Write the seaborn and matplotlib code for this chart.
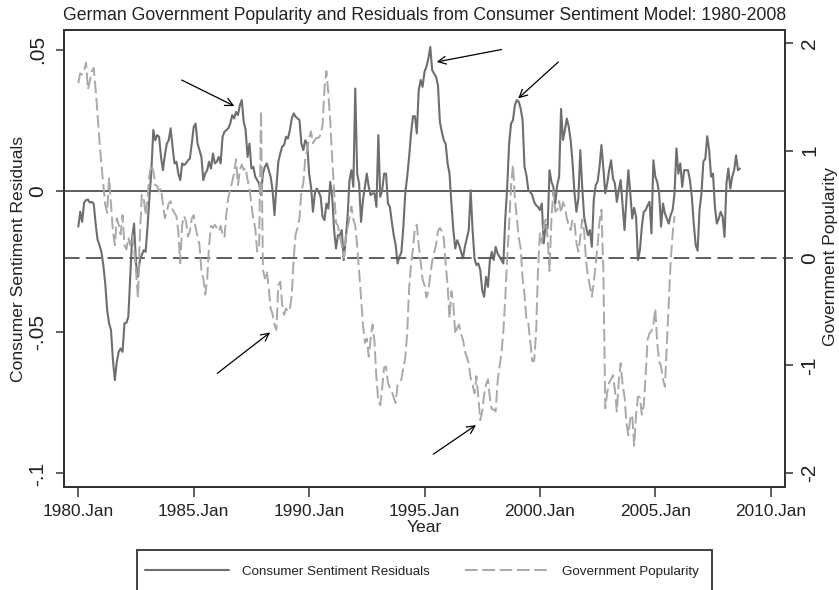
import numpy as np
import pandas as pd
import matplotlib
matplotlib.use("Agg")
import matplotlib.pyplot as plt
from matplotlib.lines import Line2D
from matplotlib.patches import Rectangle
import seaborn as sns

# Monthly series, first observation 1980.Jan
residuals = [
    -0.0127, -0.0074, -0.0110, -0.0042, -0.0033, -0.0031, -0.0042, -0.0039, -0.0045, -0.0116,
    -0.0172, -0.0192, -0.0216, -0.0263, -0.0328, -0.0422, -0.0469, -0.0493, -0.0599, -0.0670,
    -0.0605, -0.0570, -0.0558, -0.0570, -0.0469, -0.0467, -0.0446, -0.0304, -0.0163, -0.0116,
    -0.0257, -0.0304, -0.0245, -0.0228, -0.0210, -0.0216, -0.0127, -0.0021, 0.0073, 0.0215,
    0.0179, 0.0197, 0.0191, 0.0120, 0.0073, 0.0126, 0.0167, 0.0179, 0.0221, 0.0156,
    0.0097, 0.0103, 0.0061, 0.0038, 0.0097, 0.0091, 0.0097, 0.0108, 0.0114, 0.0167,
    0.0226, 0.0238, 0.0167, 0.0144, 0.0120, 0.0038, 0.0061, 0.0073, 0.0103, 0.0079,
    0.0132, 0.0097, 0.0103, 0.0120, 0.0097, 0.0191, 0.0209, 0.0215, 0.0221, 0.0238,
    0.0268, 0.0256, 0.0279, 0.0268, 0.0303, 0.0321, 0.0244, 0.0215, 0.0120, 0.0167,
    0.0079, 0.0085, 0.0050, 0.0038, 0.0026, -0.0015, 0.0061, 0.0085, 0.0097, 0.0073,
    0.0050, 0.0002, -0.0086, 0.0014, 0.0103, 0.0132, 0.0156, 0.0162, 0.0191, 0.0185,
    0.0215, 0.0256, 0.0274, 0.0262, 0.0256, 0.0250, 0.0167, 0.0144, 0.0179, 0.0167,
    0.0061, 0.0014, -0.0074, -0.0009, 0.0008, -0.0004, -0.0021, -0.0092, -0.0104, -0.0045,
    -0.0063, 0.0032, -0.0021, -0.0139, -0.0204, -0.0157, -0.0157, -0.0139, -0.0245, -0.0175,
    -0.0092, 0.0038, 0.0073, 0.0014, 0.0362, 0.0061, 0.0026, -0.0110, -0.0033, 0.0014,
    0.0061, 0.0014, -0.0015, -0.0009, -0.0009, -0.0057, 0.0197, -0.0021, 0.0002, 0.0061,
    0.0061, -0.0045, -0.0057, -0.0110, -0.0157, -0.0192, -0.0257, -0.0233, -0.0216, -0.0127,
    -0.0009, 0.0050, 0.0120, 0.0203, 0.0264, 0.0264, 0.0203, 0.0356, 0.0392, 0.0368,
    0.0421, 0.0439, 0.0468, 0.0509, 0.0427, 0.0415, 0.0403, 0.0374, 0.0244, 0.0209,
    0.0179, 0.0167, 0.0097, 0.0061, -0.0045, -0.0139, -0.0204, -0.0175, -0.0192, -0.0216,
    -0.0239, -0.0198, -0.0169, -0.0139, 0.0002, -0.0139, -0.0239, -0.0263, -0.0257, -0.0281,
    -0.0351, -0.0375, -0.0304, -0.0340, -0.0245, -0.0216, -0.0245, -0.0198, -0.0222, -0.0233,
    -0.0245, -0.0257, -0.0098, 0.0014, 0.0167, 0.0238, 0.0250, 0.0303, 0.0321, 0.0315,
    0.0291, 0.0250, 0.0085, 0.0055, 0.0002, -0.0004, -0.0015, -0.0039, -0.0051, -0.0057,
    -0.0068, -0.0045, -0.0186, -0.0121, -0.0133, 0.0073, 0.0032, 0.0014, -0.0045, 0.0020,
    0.0050, 0.0290, 0.0180, 0.0215, 0.0256, 0.0226, 0.0179, 0.0097, -0.0009, -0.0074,
    -0.0027, 0.0144, 0.0014, -0.0092, -0.0127, -0.0157, -0.0139, -0.0198, -0.0033, 0.0020,
    0.0032, 0.0085, 0.0162, 0.0079, -0.0009, 0.0026, 0.0073, 0.0108, 0.0044, 0.0026,
    -0.0039, 0.0002, 0.0038, -0.0051, -0.0139, -0.0027, 0.0073, -0.0009, -0.0098, -0.0060,
    -0.0092, -0.0245, -0.0210, -0.0127, -0.0074, -0.0068, -0.0051, -0.0039, -0.0151, 0.0108,
    0.0050, 0.0032, -0.0009, -0.0127, -0.0045, -0.0080, -0.0098, -0.0116, -0.0086, -0.0068,
    -0.0009, 0.0150, 0.0061, 0.0097, 0.0014, 0.0073, 0.0073, 0.0073, 0.0038, -0.0021,
    -0.0116, -0.0192, -0.0212, -0.0068, -0.0009, 0.0103, 0.0114, 0.0193, 0.0144, 0.0050,
    0.0061, -0.0057, -0.0116, -0.0098, -0.0074, -0.0092, -0.0163, 0.0026, 0.0079, 0.0008,
    0.0050, 0.0073, 0.0126, 0.0073, 0.0079,
]

popularity = [
    1.63, 1.72, 1.71, 1.74, 1.82, 1.57, 1.65, 1.74, 1.77, 1.57,
    1.34, 1.09, 0.87, 0.68, 0.50, 0.42, 0.75, 0.50, 0.25, 0.12,
    0.37, 0.31, 0.22, 0.40, 0.12, 0.08, 0.19, 0.12, 0.22, 0.09,
    -0.12, -0.37, 0.19, 0.59, 0.56, 0.40, 0.56, 0.78, 0.87, 0.81,
    0.68, 0.67, 0.62, 0.65, 0.50, 0.37, 0.43, 0.51, 0.53, 0.45,
    0.42, 0.39, 0.25, -0.05, 0.31, 0.39, 0.34, 0.20, 0.25, 0.37,
    0.40, 0.28, 0.20, 0.12, -0.11, -0.19, -0.34, -0.20, 0.12, 0.30,
    0.28, 0.31, 0.28, 0.25, 0.30, 0.22, 0.19, 0.42, 0.56, 0.64,
    0.71, 0.79, 0.92, 0.68, 0.82, 0.87, 0.82, 0.84, 0.73, 0.65,
    0.50, 0.36, 0.28, 0.06, 0.09, 1.37, -0.11, -0.19, -0.12, -0.28,
    -0.47, -0.52, -0.62, -0.67, -0.25, -0.22, -0.43, -0.53, -0.47, -0.50,
    -0.47, -0.35, 0.00, 0.22, 0.28, 0.37, 0.62, 0.70, 0.92, 1.01,
    1.12, 1.18, 1.07, 1.10, 1.12, 1.12, 1.15, 1.24, 1.58, 1.74,
    1.54, 1.27, 0.93, 0.62, 0.33, 0.30, 0.20, 0.12, 0.00, 0.19,
    0.28, 0.37, 0.48, 0.36, 0.30, 0.11, -0.12, -0.37, -0.62, -0.79,
    -0.75, -0.92, -0.75, -0.62, -0.78, -1.12, -1.34, -1.37, -1.21, -1.02,
    -1.01, -1.16, -1.21, -1.24, -1.30, -1.35, -1.18, -1.16, -1.13, -1.02,
    -0.93, -0.70, -0.28, -0.06, 0.09, 0.28, 0.31, 0.12, -0.03, -0.20,
    -0.25, -0.37, -0.31, -0.16, -0.03, 0.05, 0.12, 0.25, 0.28, 0.25,
    0.19, -0.05, -0.25, -0.56, -0.31, -0.43, -0.71, -0.65, -0.62, -0.71,
    -0.76, -0.87, -0.92, -0.98, -1.12, -1.18, -1.26, -1.10, -1.30, -1.51,
    -1.43, -1.27, -1.18, -1.13, -1.30, -1.41, -1.41, -1.43, -1.15, -1.01,
    -0.89, -0.68, -0.37, 0.00, 0.31, 0.67, 0.87, 0.56, 0.37, 0.19,
    0.09, -0.19, -0.34, -0.57, -0.61, -0.78, -0.96, -0.96, -0.70, -0.12,
    0.23, 0.14, 0.30, 0.36, 0.19, -0.12, 0.37, 0.62, 0.43, 0.45,
    0.53, 0.42, 0.52, 0.48, 0.37, 0.30, 0.26, 0.36, 0.33, 0.14,
    0.06, 0.19, 0.36, 0.25, -0.03, -0.17, -0.26, -0.36, -0.23, -0.06,
    0.12, 0.34, 0.45, -0.12, -1.40, -1.25, -1.16, -1.13, -1.09, -1.23,
    -1.43, -1.15, -0.98, -1.18, -1.29, -1.54, -1.65, -1.49, -1.46, -1.75,
    -1.46, -1.29, -1.30, -1.46, -1.37, -1.09, -0.76, -0.70, -0.68, -0.62,
    -0.47, -0.79, -0.96, -1.01, -1.13, -1.20, -0.81, -0.40, -0.03, 0.22,
    0.39,
]

start_year = 1980
x_ticks = [1980, 1985, 1990, 1995, 2000, 2005, 2010]
x_tick_labels = ["1980.Jan", "1985.Jan", "1990.Jan", "1995.Jan", "2000.Jan", "2005.Jan", "2010.Jan"]
left_ticks = [-0.1, -0.05, 0, 0.05]
left_tick_labels = ["-.1", "-.05", "0", ".05"]
right_ticks = [-2, -1, 0, 1, 2]
right_tick_labels = ["-2", "-1", "0", "1", "2"]

series_names = ["Consumer Sentiment Residuals", "Government Popularity"]
title = "German Government Popularity and Residuals from Consumer Sentiment Model: 1980-2008"

# Arrows: (tail year, tail value, head year, head value) on the residual scale
arrows = [
    (1984.48, 0.0392, 1986.76, 0.0300),
    (1998.34, 0.0500, 1995.53, 0.0456),
    (2000.80, 0.0456, 1999.06, 0.0327),
    (1986.02, -0.0646, 1988.31, -0.0501),
    (1995.38, -0.0932, 1997.23, -0.0829),
]

sns.set_style("white")
plt.rcParams["font.family"] = ["Liberation Sans", "DejaVu Sans"]

res_df = pd.DataFrame({
    "year": start_year + np.arange(len(residuals)) / 12.0,
    "value": residuals,
})
pop_df = pd.DataFrame({
    "year": start_year + np.arange(len(popularity)) / 12.0,
    "value": popularity,
})

W, H = 839, 590
fig = plt.figure(figsize=(W / 100, H / 100), dpi=100)
ax = fig.add_axes([64 / W, 1 - 487 / H, (785 - 64) / W, (487 - 30) / H])
ax2 = ax.twinx()

res_color = "#6e6e6e"
pop_color = "#a9a9a9"
ref_color = "#5e5e5e"
frame_color = "#333333"
pop_dash = (0, (6.5, 2.4))

ax.axhline(0, color=ref_color, lw=1.4, zorder=1)
sns.lineplot(data=res_df, x="year", y="value", ax=ax, color=res_color,
             linewidth=1.5, errorbar=None, legend=False, zorder=2)

ax2.axhline(0, color=ref_color, lw=1.4, linestyle=(0, (8.0, 3.2)), zorder=1)
sns.lineplot(data=pop_df, x="year", y="value", ax=ax2, color=pop_color,
             linewidth=1.4, linestyle=pop_dash, errorbar=None, legend=False, zorder=2)

ax.set_xlim(1979.38, 2010.62)
ax.set_ylim(-0.1048, 0.0569)
ax2.set_ylim(-2.133, 2.124)

ax.set_xticks(x_ticks)
ax.set_xticklabels(x_tick_labels, fontsize=12.4)
ax.set_yticks(left_ticks)
ax.set_yticklabels(left_tick_labels, fontsize=15, rotation=90, va="center")
ax2.set_yticks(right_ticks)
ax2.set_yticklabels(right_tick_labels, fontsize=15, rotation=90, va="center")

ax.set_xlabel("")
ax.set_ylabel("")
ax2.set_ylabel("")

ax.tick_params(axis="x", bottom=True, length=7, width=1.1, color=frame_color, pad=5, labelcolor="#222222")
ax.tick_params(axis="y", left=True, length=6, width=1.1, color=frame_color, pad=6, labelcolor="#222222")
ax2.tick_params(axis="y", right=True, length=6, width=1.1, color=frame_color, pad=5, labelcolor="#222222")

for a in (ax, ax2):
    for s in a.spines.values():
        s.set_color(frame_color)
        s.set_linewidth(1.4)

for tx, ty, hx, hy in arrows:
    ax.annotate("", xy=(hx, hy), xytext=(tx, ty),
                arrowprops=dict(arrowstyle="->", color="black", lw=0.9,
                                mutation_scale=14, shrinkA=0, shrinkB=0),
                zorder=5)

fig.text(424.5 / W, 1 - 16 / H, title, ha="center", va="center", fontsize=12.7, color="#222222")
fig.text(424.5 / W, 1 - 527.5 / H, "Year", ha="center", va="center", fontsize=12.6, color="#222222")
fig.text(19 / W, 1 - 259.5 / H, series_names[0], ha="center", va="center",
         rotation=90, fontsize=12.6, color="#222222")
fig.text(830 / W, 1 - 257 / H, series_names[1], ha="center", va="center",
         rotation=90, fontsize=12.6, color="#222222")

handles = [
    Line2D([], [], color=res_color, lw=1.5),
    Line2D([], [], color=pop_color, lw=1.4, linestyle=pop_dash),
]
fig.legend(handles, series_names, loc="center", bbox_to_anchor=(422 / W, 1 - 571.7 / H),
           ncol=2, frameon=False, fontsize=9.6, handlelength=6.3, handletextpad=1.0,
           columnspacing=2.6, borderpad=0, borderaxespad=0, labelcolor="#222222")
fig.patches.append(Rectangle((136.7 / W, -0.05), (712.3 - 136.7) / W, (1 - 550 / H) + 0.05,
                             transform=fig.transFigure, fill=False,
                             edgecolor=frame_color, lw=1.3))

fig.savefig("out.png", dpi=100)
